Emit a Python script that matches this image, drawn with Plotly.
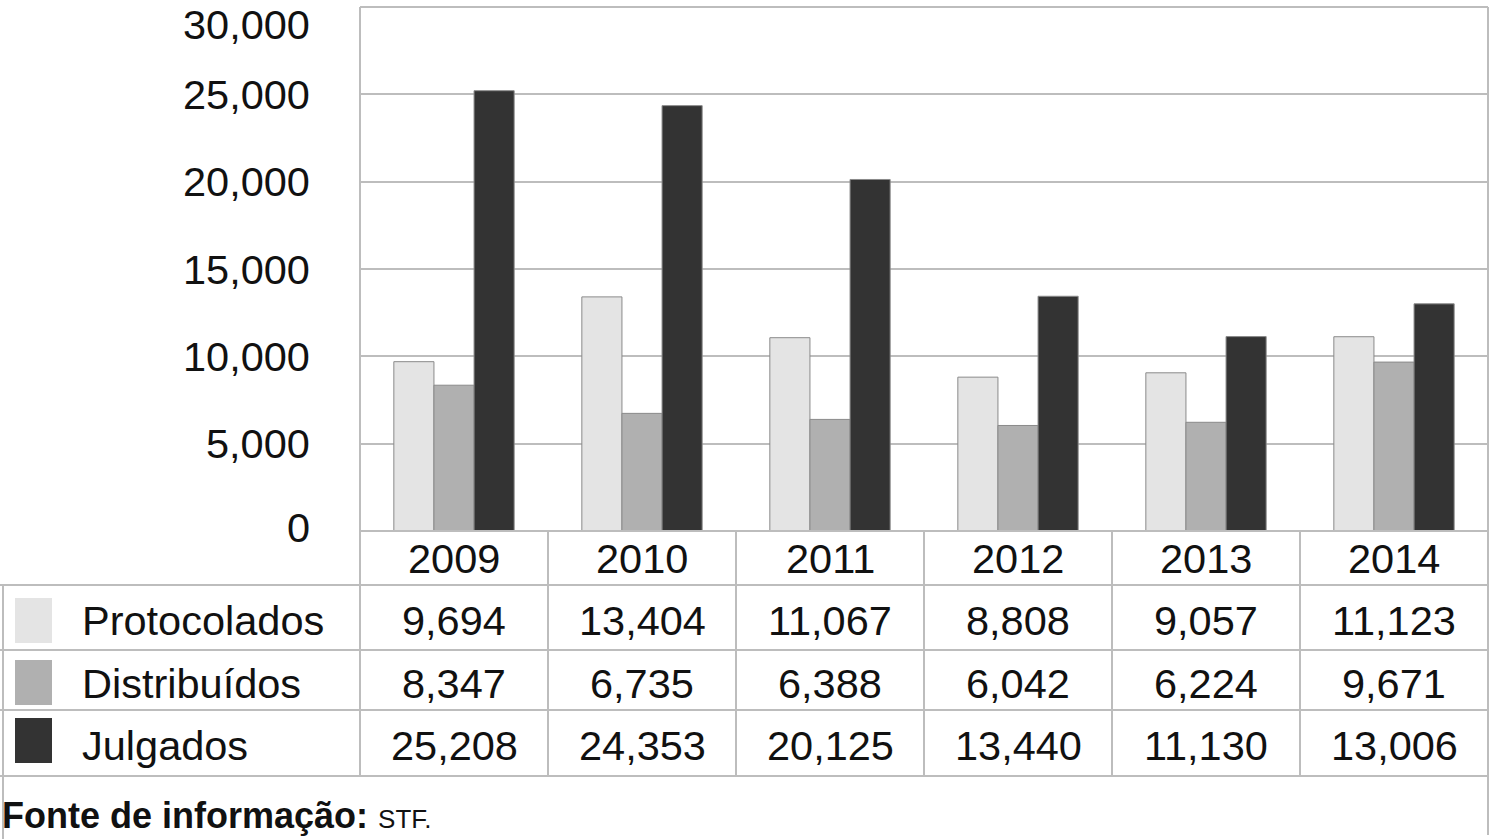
import plotly.graph_objects as go

years = ["2009", "2010", "2011", "2012", "2013", "2014"]
series_names = ["Protocolados", "Distribuídos", "Julgados"]
protocolados = [9694, 13404, 11067, 8808, 9057, 11123]
distribuidos = [8347, 6735, 6388, 6042, 6224, 9671]
julgados = [25208, 24353, 20125, 13440, 11130, 13006]
colors = ["#e4e4e4", "#b0b0b0", "#333333"]
y_ticks = [0, 5000, 10000, 15000, 20000, 25000, 30000]

W, H = 1491, 839
def px(x): return x / W
def py(y): return 1 - y / H

FONT = "Liberation Sans, Arial, Helvetica, sans-serif"
GRID = "#bdbdbd"
FS = 41.5

fig = go.Figure()
for name, vals, col in zip(series_names, [protocolados, distribuidos, julgados], colors):
    fig.add_trace(go.Bar(x=list(range(len(years))), y=vals, name=name,
                         marker=dict(color=col, line=dict(color="#8a8a8a", width=1))))

fig.update_layout(
    width=W, height=H, margin=dict(l=0, r=0, t=0, b=0),
    paper_bgcolor="white", plot_bgcolor="white",
    barmode="group", bargap=0.36, bargroupgap=0,
    showlegend=False,
    font=dict(family=FONT, size=FS, color="#111"),
    xaxis=dict(domain=[px(360), px(1488)], range=[-0.5, len(years) - 0.5],
               showticklabels=False, showgrid=False, zeroline=False, showline=False, fixedrange=True),
    yaxis=dict(domain=[py(531), py(7)], range=[0, 30000], tickvals=y_ticks,
               showticklabels=False, showgrid=True, gridcolor=GRID, gridwidth=2,
               zeroline=False, showline=False, ticks=""),
)

shapes = []
def line(x0, y0, x1, y1, xref="paper"):
    shapes.append(dict(type="line", xref=xref, yref="paper", x0=x0, x1=x1, y0=py(y0), y1=py(y1),
                       line=dict(color=GRID, width=2), layer="above"))

# plot frame
line(px(360), 7, px(1488), 7)
line(px(360), 7, px(360), 776)
line(px(1488), 7, px(1488), 835)
line(px(360), 531, px(1488), 531)
# table rows
for yy in [585, 650, 710, 776]:
    line(px(0), yy, px(1488), yy)
line(px(3), 585, px(3), 839)
# column separators
for k in range(len(years) - 1):
    line(k + 0.5, 531, k + 0.5, 776, xref="x")

# legend swatches
sw_y = [(598, 643), (660, 705), (718, 763)]
for (y0, y1), col in zip(sw_y, colors):
    shapes.append(dict(type="rect", xref="paper", yref="paper", x0=px(15), x1=px(52),
                       y0=py(y1), y1=py(y0), fillcolor=col, line=dict(width=0), layer="above"))

annotations = []
# y tick labels placed via the y axis scale
for v in y_ticks:
    if v == y_ticks[-1]:
        anchor, shift = "top", 7
    else:
        anchor, shift = "middle", (4 if v == 0 else 0)
    annotations.append(dict(x=px(311), y=v, xref="paper", yref="y", text=f"{v:,}", showarrow=False,
                            font=dict(size=FS, family=FONT, color="#111"), xanchor="right",
                            yanchor=anchor, yshift=shift, borderpad=0))
for i, yr in enumerate(years):
    annotations.append(dict(x=i, y=py(558), xref="x", yref="paper", text=yr, showarrow=False,
                            font=dict(size=FS, family=FONT, color="#111"), xanchor="center", yanchor="middle"))
row_y = [620, 683, 745]
for name, vals, ry in zip(series_names, [protocolados, distribuidos, julgados], row_y):
    annotations.append(dict(x=px(80), y=py(ry), xref="paper", yref="paper", text=name, showarrow=False,
                            font=dict(size=FS, family=FONT, color="#111"), xanchor="left", yanchor="middle"))
    for i, v in enumerate(vals):
        annotations.append(dict(x=i, y=py(ry), xref="x", yref="paper", text=f"{v:,}", showarrow=False,
                                font=dict(size=FS, family=FONT, color="#111"), xanchor="center", yanchor="middle"))

annotations.append(dict(x=px(0), y=py(815), xref="paper", yref="paper",
                        text="<b>Fonte de informação:</b> <span style='font-size:26px'>STF.</span>",
                        showarrow=False, font=dict(size=36, family=FONT, color="#111"),
                        xanchor="left", yanchor="middle"))

fig.update_layout(shapes=shapes, annotations=annotations)
fig.write_html("out.html", config={"displayModeBar": False},
               post_script="document.body.style.margin='0';document.body.style.overflow='hidden';")
